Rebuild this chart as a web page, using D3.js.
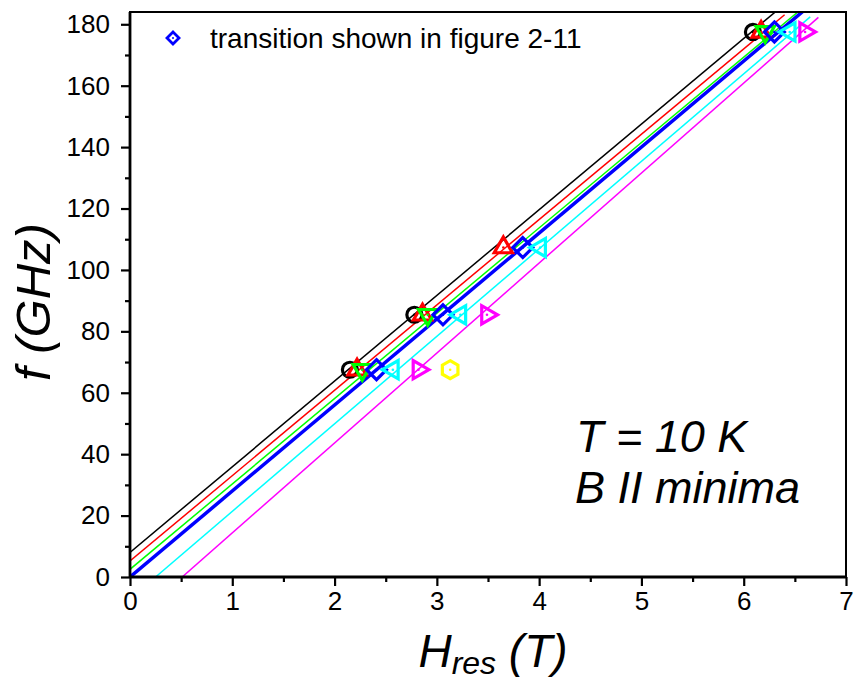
<!DOCTYPE html>
<html>
<head>
<meta charset="utf-8">
<script src="https://cdn.jsdelivr.net/npm/d3@7"></script>
<style>
  html, body { margin: 0; padding: 0; background: #fff; }
  svg { display: block; font-family: "Liberation Sans", Arial, sans-serif; }
</style>
</head>
<body>
<svg id="chart" width="855" height="680"></svg>
<script>
// Resonance field vs. frequency, T = 10 K, B || minima
const xTicks = [0, 1, 2, 3, 4, 5, 6, 7];
const yTicks = [0, 20, 40, 60, 80, 100, 120, 140, 160, 180];

// Measured resonance positions per transition: field (T) and frequency (GHz)
const blackH = [2.15, 2.78, 6.09];
const blackF = [67.5, 85.4, 177.5];
const redH = [2.22, 2.86, 3.65, 6.17];
const redF = [67.5, 85.4, 107.3, 177.5];
const greenH = [2.27, 2.91, 6.21];
const greenF = [67.5, 85.4, 177.5];
const blueH = [2.41, 3.06, 3.84, 6.30];
const blueF = [67.5, 85.4, 107.3, 177.5];
const cyanH = [2.57, 3.23, 4.01, 6.45];
const cyanF = [67.5, 85.4, 107.3, 177.5];
const magentaH = [2.82, 3.49, 6.60];
const magentaF = [67.5, 85.4, 177.5];
const yellowH = [3.13];
const yellowF = [67.5];

// Linear fits f = slope * (H - h0) + f0, drawn from hStart to hEnd
const fitNames = ["black", "red", "green", "blue", "cyan", "magenta"];
const fitSlope = [27.9, 27.8, 27.8, 28.0, 28.5, 29.3];
const fitOffset = [8.0, 5.2, 2.5, 0.0, 0.0, 0.0];
const fitH0 = [0, 0, 0, 0, 0.25, 0.51];
const fitHStart = [0, 0, 0, 0, 0.25, 0.51];
const fitHEnd = [6.4, 6.4, 6.55, 6.62, 6.65, 6.73];

const legendLabel = "transition shown in figure 2-11";

const colors = {
  black: "#000000", red: "#ff0000", green: "#00ff00", blue: "#0000ff",
  cyan: "#00ffff", magenta: "#ff00ff", yellow: "#ffff00"
};

const svg = d3.select("#chart");
const x = d3.scaleLinear().domain([0, 7]).range([130, 846]);
const y = d3.scaleLinear().domain([0, 184]).range([577, 12]);

svg.append("defs").append("clipPath").attr("id", "plot-clip")
  .append("rect")
  .attr("x", x(0)).attr("y", y(184))
  .attr("width", x(7) - x(0)).attr("height", y(0) - y(184));

// fit lines
const lineGen = d3.line().x(d => x(d[0])).y(d => y(d[1]));
const linesG = svg.append("g").attr("clip-path", "url(#plot-clip)");
fitNames.forEach((name, i) => {
  const f = h => fitSlope[i] * (h - fitH0[i]) + fitOffset[i];
  const pts = [[fitHStart[i], f(fitHStart[i])], [fitHEnd[i], f(fitHEnd[i])]];
  linesG.append("path")
    .attr("d", lineGen(pts))
    .attr("fill", "none")
    .attr("stroke", colors[name])
    .attr("stroke-width", name === "blue" ? 3.5 : 1.5);
});

// open polygon marker: n vertices, radius r, rotation in degrees (0 = vertex up)
function polygonPath(n, r, rotDeg) {
  const pts = d3.range(n).map(k => {
    const a = (rotDeg + k * 360 / n) * Math.PI / 180;
    return [r * Math.sin(a), -r * Math.cos(a)];
  });
  return "M" + pts.map(p => p.join(",")).join("L") + "Z";
}

const shapes = {
  circle: null,
  up: polygonPath(3, 10.5, 0),
  down: polygonPath(3, 10.5, 180),
  diamond: polygonPath(4, 10, 0),
  left: polygonPath(3, 10.5, 270),
  right: polygonPath(3, 10.5, 90),
  hexagon: polygonPath(6, 9, 0)
};

function drawMarkers(hs, fs, color, shape) {
  const g = svg.append("g");
  hs.forEach((h, i) => {
    const m = g.append("g").attr("transform", `translate(${x(h)},${y(fs[i])})`);
    if (shape === "circle") {
      m.append("circle").attr("r", 7.5)
        .attr("fill", "none").attr("stroke", color).attr("stroke-width", 3.2);
    } else {
      m.append("path").attr("d", shapes[shape])
        .attr("fill", "none").attr("stroke", color)
        .attr("stroke-width", 3.2).attr("stroke-linejoin", "miter");
    }
    m.append("circle").attr("r", 1.3).attr("fill", color);
  });
}

drawMarkers(blackH, blackF, colors.black, "circle");
drawMarkers(redH, redF, colors.red, "up");
drawMarkers(greenH, greenF, colors.green, "down");
drawMarkers(blueH, blueF, colors.blue, "diamond");
drawMarkers(cyanH, cyanF, colors.cyan, "left");
drawMarkers(magentaH, magentaF, colors.magenta, "right");
drawMarkers(yellowH, yellowF, colors.yellow, "hexagon");

// frame
svg.append("rect")
  .attr("x", x(0)).attr("y", y(184))
  .attr("width", x(7) - x(0)).attr("height", y(0) - y(184))
  .attr("fill", "none").attr("stroke", "#000").attr("stroke-width", 2);

// axes
const xMinor = d3.range(0.5, 7, 1);
const yMinor = d3.range(10, 184, 20);

const xAxis = svg.append("g").attr("transform", `translate(0,${y(0)})`)
  .call(d3.axisBottom(x).tickValues(xTicks).tickFormat(d3.format("d"))
    .tickSize(9).tickPadding(6));
svg.append("g").attr("transform", `translate(0,${y(0)})`)
  .call(d3.axisBottom(x).tickValues(xMinor).tickFormat("").tickSize(5))
  .select(".domain").remove();

const yAxis = svg.append("g").attr("transform", `translate(${x(0)},0)`)
  .call(d3.axisLeft(y).tickValues(yTicks).tickFormat(d3.format("d"))
    .tickSize(9).tickPadding(11));
svg.append("g").attr("transform", `translate(${x(0)},0)`)
  .call(d3.axisLeft(y).tickValues(yMinor).tickFormat("").tickSize(5))
  .select(".domain").remove();

svg.selectAll(".tick line").attr("stroke-width", 2.2);
[xAxis, yAxis].forEach(a => {
  a.select(".domain").attr("stroke-width", 2.8).attr("d",
    a === xAxis ? `M${x(0)},0H${x(7)}` : `M0,${y(0)}V${y(184)}`);
  a.selectAll("text").attr("font-size", 26)
    .attr("font-family", '"Liberation Sans", Arial, sans-serif').attr("fill", "#000");
});

// axis titles
const xTitle = svg.append("text")
  .attr("x", 493).attr("y", 667)
  .attr("text-anchor", "middle")
  .attr("font-style", "italic").attr("font-size", 46);
xTitle.append("tspan").text("H");
xTitle.append("tspan").attr("font-size", 32).attr("dy", 7).text("res");
xTitle.append("tspan").attr("dy", -7).text(" (T)");

svg.append("text")
  .attr("transform", "translate(50,302) rotate(-90)")
  .attr("text-anchor", "middle")
  .attr("font-style", "italic").attr("font-size", 49)
  .text("f (GHz)");

// legend
const legend = svg.append("g");
legend.append("path")
  .attr("transform", `translate(173,38)`)
  .attr("d", polygonPath(4, 6, 0))
  .attr("fill", "none").attr("stroke", colors.blue).attr("stroke-width", 2.8);
legend.append("circle").attr("cx", 173).attr("cy", 38).attr("r", 1).attr("fill", colors.blue);
legend.append("text").attr("x", 210).attr("y", 48)
  .attr("font-size", 28).text(legendLabel);

// annotation
svg.append("text").attr("x", 576).attr("y", 452)
  .attr("font-style", "italic").attr("font-size", 45).text("T = 10 K");
svg.append("text").attr("x", 575).attr("y", 503)
  .attr("font-style", "italic").attr("font-size", 45).text("B II minima");
</script>
</body>
</html>
